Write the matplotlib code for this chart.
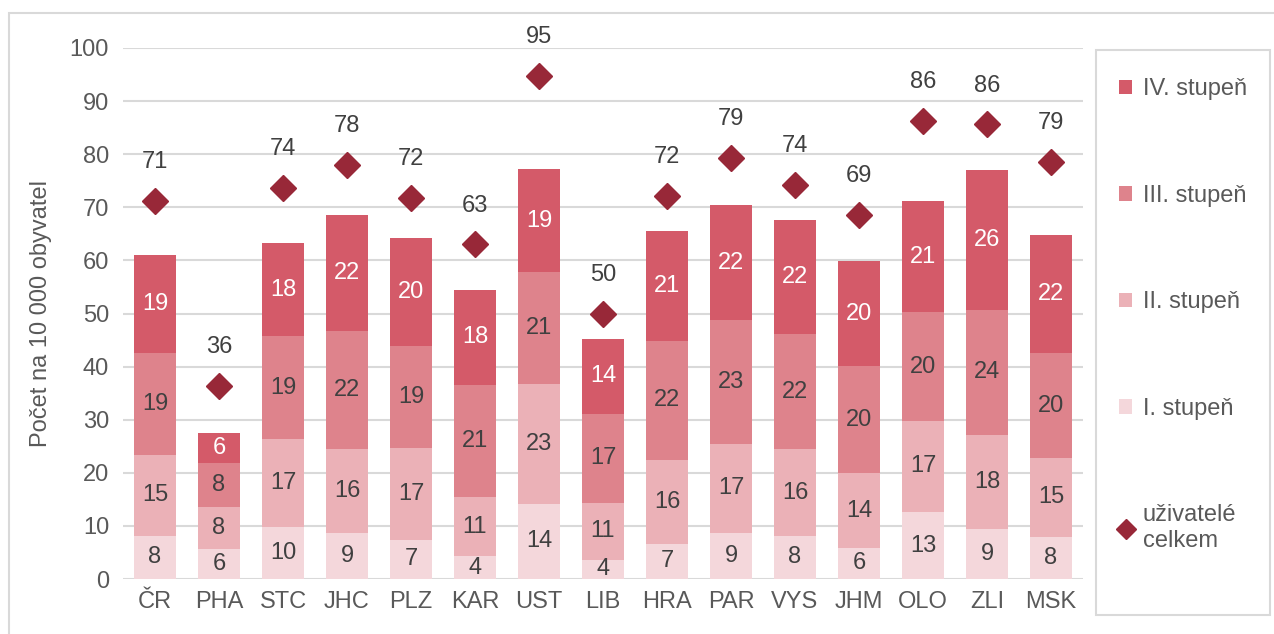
import numpy as np
import matplotlib.pyplot as plt
from matplotlib.patches import Rectangle
from matplotlib.lines import Line2D

plt.rcParams['font.family'] = ['Liberation Sans', 'DejaVu Sans']

# data ########################################################
kraje = ['ČR', 'PHA', 'STC', 'JHC', 'PLZ', 'KAR', 'UST', 'LIB',
         'HRA', 'PAR', 'VYS', 'JHM', 'OLO', 'ZLI', 'MSK']
st1 = [8.1, 5.6, 9.8, 8.7, 7.4, 4.3, 14.2, 3.6, 6.6, 8.6, 8.1, 5.9, 12.6, 9.4, 7.9]
st2 = [15.3, 8.0, 16.6, 15.7, 17.3, 11.1, 22.6, 10.8, 15.9, 16.9, 16.3, 14.0, 17.2, 17.7, 14.9]
st3 = [19.1, 8.3, 19.3, 22.3, 19.1, 21.1, 21.0, 16.7, 22.4, 23.3, 21.7, 20.2, 20.4, 23.6, 19.7]
st4 = [18.6, 5.6, 17.6, 21.9, 20.4, 18.0, 19.4, 14.1, 20.7, 21.6, 21.6, 19.8, 21.0, 26.3, 22.3]
celkem = [71.2, 36.4, 73.6, 77.9, 71.8, 63.0, 94.7, 50.0, 72.1, 79.3, 74.2, 68.6, 86.3, 85.6, 78.6]

serie = [('I. stupeň', st1, '#F4D7DB', '#404040'),
         ('II. stupeň', st2, '#EBB1B7', '#404040'),
         ('III. stupeň', st3, '#DE838C', '#404040'),
         ('IV. stupeň', st4, '#D45A69', 'white')]
###############################################################

fs = 17
fig = plt.figure(figsize=(12.74, 6.34), dpi=100)
ax = fig.add_axes([123/1274, 55/634, 960/1274, 531/634])

x = np.arange(len(kraje))
bottom = np.zeros(len(kraje))
handles = {}
for name, vals, col, tcol in serie:
    vals = np.array(vals)
    bars = ax.bar(x, vals, 0.67, bottom=bottom, color=col, zorder=2)
    ax.bar_label(bars, labels=['%.0f' % v for v in vals], label_type='center',
                 color=tcol, fontsize=fs)
    handles[name] = bars
    bottom = bottom + vals

ax.plot(x, celkem, linestyle='none', marker='D', markersize=13,
        color='#982838', zorder=3)
for xi, v in zip(x, celkem):
    ax.annotate('%.0f' % v, (xi, v), xytext=(0, 28), textcoords='offset points',
                ha='center', va='center', fontsize=fs, color='#404040',
                annotation_clip=False)

ax.set_xlim(-0.5, len(kraje) - 0.5)
ax.set_ylim(0, 100)
ax.set_yticks(np.arange(0, 101, 10))
ax.set_xticks(x)
ax.set_xticklabels(kraje)
ax.grid(axis='y', color='#D9D9D9', linewidth=1.5, zorder=0)
ax.set_axisbelow(True)
for s in ax.spines.values():
    s.set_visible(False)
ax.tick_params(length=0, labelsize=fs, colors='#595959')
ax.tick_params(axis='y', pad=10)
ax.tick_params(axis='x', pad=9)
ax.set_ylabel('Počet na 10 000 obyvatel', fontsize=fs, color='#595959', labelpad=13)

# legend box and outer frame
fig.patches.append(Rectangle((1096/1274, 19/634), 174/1274, 565/634,
                             transform=fig.transFigure, fill=False,
                             edgecolor='#D9D9D9', linewidth=1.5))
fig.patches.append(Rectangle((9/1274, -0.1), 1.2, (621/634) + 0.1,
                             transform=fig.transFigure, fill=False,
                             edgecolor='#D9D9D9', linewidth=1.5))

leg_h = [handles['IV. stupeň'], handles['III. stupeň'], handles['II. stupeň'],
         handles['I. stupeň'],
         Line2D([], [], linestyle='none', marker='D', markersize=10, color='#982838')]
leg_l = ['IV. stupeň', 'III. stupeň', 'II. stupeň', 'I. stupeň', 'uživatelé\ncelkem']
fig.legend(leg_h, leg_l, loc='upper left', bbox_to_anchor=(1098/1274, 577/634),
           frameon=False, fontsize=fs, labelcolor='#595959', labelspacing=3.58,
           handlelength=0.55, handleheight=0.55, handletextpad=0.45)

fig.savefig('out.png', dpi=100)
